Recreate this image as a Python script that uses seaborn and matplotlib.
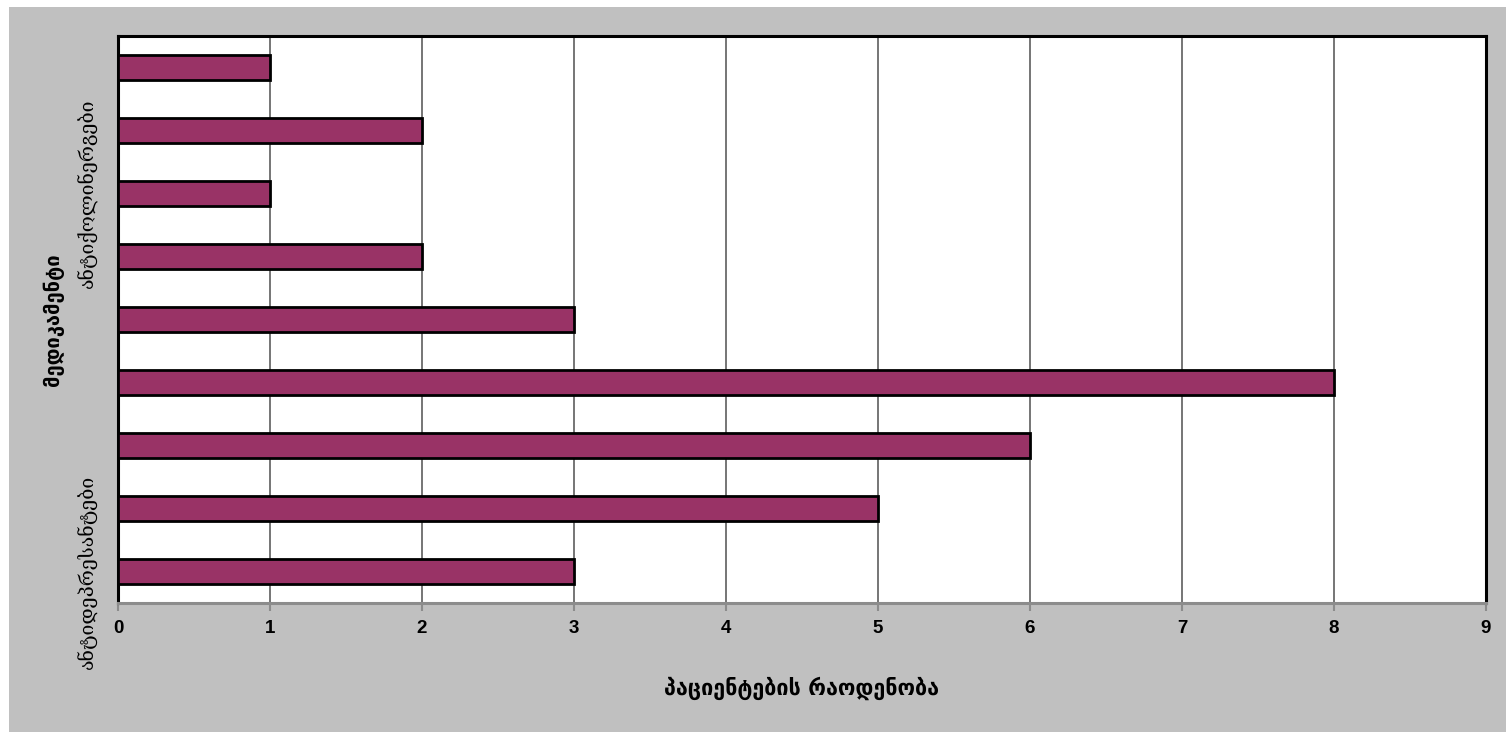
import matplotlib
matplotlib.use("Agg")
import matplotlib.pyplot as plt
import seaborn as sns
import pandas as pd
from matplotlib.patches import Rectangle

# Medication groups, listed top to bottom; only every sixth name is shown on the axis
categories = ["c1", "c2", "c3", "c4", "c5", "c6", "c7", "c8", "c9"]
tick_labels = ["", "", "ანტიქოლინერგები", "", "", "", "", "", "ანტიდეპრესანტები"]
patients = [1, 2, 1, 2, 3, 8, 6, 5, 3]
x_ticks = [0, 1, 2, 3, 4, 5, 6, 7, 8, 9]

x_title = "პაციენტების რაოდენობა"
y_title = "მედიკამენტი"

df = pd.DataFrame({"category": categories, "patients": patients})

sns.set_theme(style="white")
plt.rcParams["font.family"] = ["DejaVu Sans"]

W, H = 1506, 733
fig = plt.figure(figsize=(W / 100, H / 100), dpi=100, facecolor="white")

# grey chart area behind the plot
fig.patches.append(Rectangle((9 / W, 1 - 732 / H), (1506 - 9) / W, (732 - 7) / H,
                             transform=fig.transFigure, facecolor="#c0c0c0",
                             edgecolor="none", zorder=-10))

ax = fig.add_axes([118 / W, 1 - 603 / H, (1486 - 118) / W, (603 - 36) / H])
ax.set_facecolor("white")

sns.barplot(data=df, y="category", x="patients", orient="h", order=categories,
            color="#993366", saturation=1, width=0.4, edgecolor="black",
            linewidth=2, ax=ax, zorder=3)

ax.set_xlim(0, 9)
ax.set_ylim(len(categories) - 0.5, -0.5)
ax.set_xticks(x_ticks)
ax.set_xticklabels([str(t) for t in x_ticks], fontsize=13.5, fontweight="bold",
                   family="Liberation Sans", color="black")
ax.xaxis.grid(True, color="#6a6a6a", linewidth=1.3, zorder=1)
ax.yaxis.grid(False)
ax.set_axisbelow(True)

ax.tick_params(axis="x", bottom=True, length=6, width=1.5, color="#8c8c8c",
               pad=6, direction="out")
ax.tick_params(axis="y", left=False, length=0, pad=22)

ax.set_yticks(range(len(categories)))
ax.set_yticklabels(tick_labels, rotation=90, va="center", ha="center",
                   fontsize=14, family="DejaVu Serif", color="black")

for side in ("top", "right", "left"):
    ax.spines[side].set_color("black")
    ax.spines[side].set_linewidth(2.2)
ax.spines["bottom"].set_color("#8c8c8c")
ax.spines["bottom"].set_linewidth(2.2)

ax.set_xlabel(x_title, fontsize=15.5, fontweight="bold", color="black", labelpad=29)
ax.set_ylabel(y_title, fontsize=14.5, fontweight="bold", color="black")
ax.yaxis.set_label_coords((64 - 118) / (1486 - 118), 0.5)

fig.savefig("out.png", dpi=100, facecolor="white")
